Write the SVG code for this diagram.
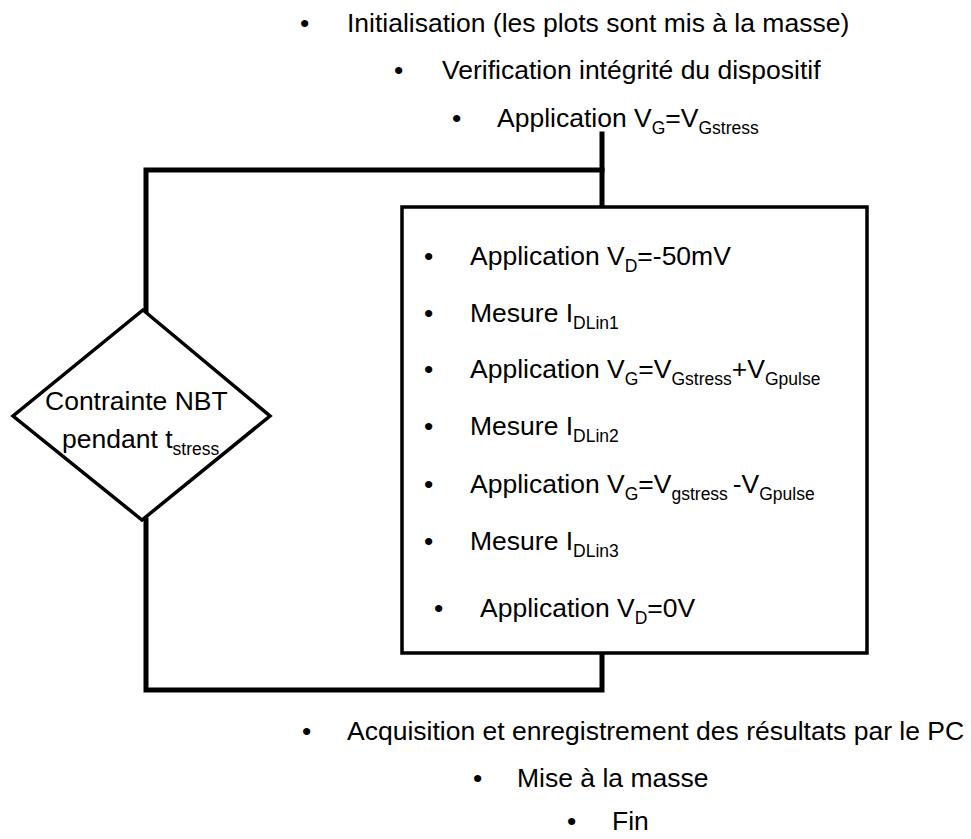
<svg xmlns="http://www.w3.org/2000/svg" width="971" height="839" viewBox="0 0 971 839">
<style>
text{font-family:"Liberation Sans",Arial,sans-serif;font-size:26.5px;fill:#000}
.s{font-size:17.5px}
.wire{fill:none;stroke:#000;stroke-width:5;stroke-linecap:square}
.box{fill:#fff;stroke:#000;stroke-width:3.5}
</style>
<rect width="971" height="839" fill="#fff"/>
<g id="steps-top">
<text x="300" y="32">•<tspan x="347">Initialisation (les plots sont mis à la masse)</tspan></text>
<text x="394" y="79">•<tspan x="442">Verification intégrité du dispositif</tspan></text>
<text x="452" y="127">•<tspan x="497">Application V</tspan><tspan class="s" dy="7">G</tspan><tspan dy="-7">=V</tspan><tspan class="s" dy="7">Gstress</tspan></text>
</g>
<g id="connectors">
<path class="wire" d="M602,134 V207"/>
<path class="wire" d="M602,170 H146 V312"/>
<path class="wire" d="M146,520 V690 H602 V653"/>
</g>
<g id="loop-box">
<rect class="box" x="402" y="207" width="465" height="446"/>
<text x="424" y="265">•<tspan x="470">Application V</tspan><tspan class="s" dy="7">D</tspan><tspan dy="-7">=-50mV</tspan></text>
<text x="424" y="322">•<tspan x="470">Mesure I</tspan><tspan class="s" dy="7">DLin1</tspan></text>
<text x="424" y="378">•<tspan x="470">Application V</tspan><tspan class="s" dy="7">G</tspan><tspan dy="-7">=V</tspan><tspan class="s" dy="7">Gstress</tspan><tspan dy="-7">+V</tspan><tspan class="s" dy="7">Gpulse</tspan></text>
<text x="424" y="435">•<tspan x="470">Mesure I</tspan><tspan class="s" dy="7">DLin2</tspan></text>
<text x="424" y="493">•<tspan x="470">Application V</tspan><tspan class="s" dy="7">G</tspan><tspan dy="-7">=V</tspan><tspan class="s" dy="7">gstress </tspan><tspan dy="-7">-V</tspan><tspan class="s" dy="7">Gpulse</tspan></text>
<text x="424" y="550">•<tspan x="470">Mesure I</tspan><tspan class="s" dy="7">DLin3</tspan></text>
<text x="434" y="617">•<tspan x="480">Application V</tspan><tspan class="s" dy="7">D</tspan><tspan dy="-7">=0V</tspan></text>
</g>
<g id="decision">
<polygon class="box" points="143,310 270,416 142,520 13,416"/>
<text x="45" y="410">Contrainte NBT</text>
<text x="62" y="448">pendant t<tspan class="s" dy="7">stress</tspan></text>
</g>
<g id="steps-bottom">
<text x="302" y="740">•<tspan x="347">Acquisition et enregistrement des résultats par le PC</tspan></text>
<text x="473" y="787">•<tspan x="517">Mise à la masse</tspan></text>
<text x="567" y="830">•<tspan x="612">Fin</tspan></text>
</g>
</svg>
